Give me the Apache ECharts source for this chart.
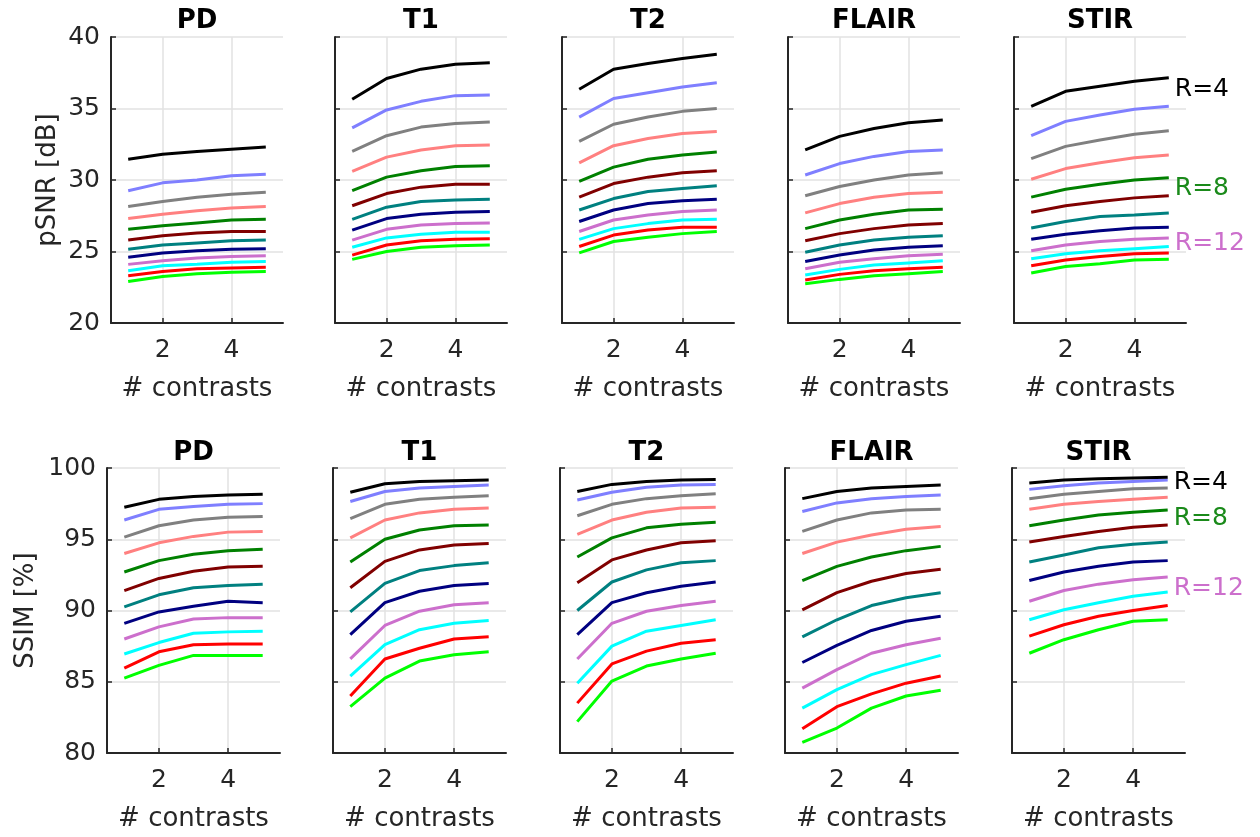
<!DOCTYPE html>
<html>
<head>
<meta charset="utf-8">
<script src="https://cdn.jsdelivr.net/npm/echarts@6/dist/echarts.min.js"></script>
<style>
html,body{margin:0;padding:0;background:#fff;}
#main{width:1260px;height:837px;}
</style>
</head>
<body>
<div id="main"></div>
<script>
// x values and acceleration factors
var contrasts=[1,2,3,4,5];
var rates=[4,5,6,7,8,9,10,11,12,13,14,15];
var lineColors=['#000000','#7f7fff','#808080','#ff8080','#008000','#800000','#008080','#000080','#cc6fcc','#00ffff','#ff0000','#00ff00'];
var panels=['PD','T1','T2','FLAIR','STIR'];
var psnrTicks=[20,25,30,35,40];
var ssimTicks=[80,85,90,95,100];

// pSNR [dB], one row per R (4..15)
var psnrPD=[
  [31.45,31.8,32.0,32.15,32.3],
  [29.25,29.8,30.0,30.3,30.4],
  [28.15,28.5,28.8,29.0,29.15],
  [27.3,27.6,27.85,28.05,28.15],
  [26.55,26.8,27.0,27.2,27.25],
  [25.8,26.1,26.3,26.4,26.4],
  [25.15,25.45,25.6,25.75,25.8],
  [24.6,24.9,25.05,25.15,25.2],
  [24.1,24.35,24.55,24.65,24.7],
  [23.65,24.0,24.1,24.25,24.3],
  [23.3,23.6,23.8,23.85,23.9],
  [22.9,23.25,23.45,23.55,23.6]
];
var psnrT1=[
  [35.65,37.1,37.75,38.1,38.2],
  [33.65,34.9,35.5,35.9,35.95],
  [32.0,33.1,33.7,33.95,34.05],
  [30.6,31.6,32.1,32.4,32.45],
  [29.25,30.2,30.65,30.95,31.0],
  [28.2,29.05,29.5,29.7,29.7],
  [27.25,28.1,28.5,28.6,28.65],
  [26.5,27.3,27.6,27.75,27.8],
  [25.8,26.55,26.85,26.95,27.0],
  [25.3,25.95,26.2,26.35,26.35],
  [24.75,25.45,25.75,25.85,25.9],
  [24.45,25.0,25.3,25.4,25.45]
];
var psnrT2=[
  [36.35,37.75,38.15,38.5,38.8],
  [34.4,35.7,36.1,36.5,36.8],
  [32.7,33.9,34.4,34.8,35.0],
  [31.2,32.4,32.9,33.25,33.4],
  [29.9,30.9,31.45,31.75,31.95],
  [28.8,29.75,30.2,30.5,30.65],
  [27.9,28.7,29.2,29.4,29.6],
  [27.1,27.9,28.35,28.55,28.65],
  [26.4,27.2,27.55,27.8,27.9],
  [25.85,26.6,26.95,27.2,27.25],
  [25.35,26.15,26.5,26.7,26.7],
  [24.9,25.7,26.0,26.25,26.4]
];
var psnrFLAIR=[
  [32.1,33.05,33.6,34.0,34.2],
  [30.35,31.15,31.65,32.0,32.1],
  [28.9,29.55,30.0,30.35,30.5],
  [27.7,28.35,28.8,29.05,29.15],
  [26.6,27.2,27.6,27.9,27.95],
  [25.75,26.25,26.6,26.85,26.95],
  [24.95,25.45,25.8,26.0,26.1],
  [24.3,24.75,25.1,25.3,25.4],
  [23.8,24.25,24.5,24.7,24.8],
  [23.35,23.75,24.05,24.2,24.35],
  [23.0,23.4,23.65,23.8,23.9],
  [22.75,23.05,23.3,23.45,23.6]
];
var psnrSTIR=[
  [35.15,36.2,36.55,36.9,37.15],
  [33.1,34.1,34.55,34.95,35.15],
  [31.5,32.35,32.8,33.2,33.45],
  [30.05,30.8,31.2,31.55,31.75],
  [28.8,29.35,29.7,30.0,30.15],
  [27.75,28.2,28.5,28.75,28.9],
  [26.65,27.1,27.45,27.55,27.7],
  [25.85,26.2,26.45,26.65,26.7],
  [25.05,25.45,25.7,25.85,25.95],
  [24.5,24.85,25.05,25.2,25.35],
  [24.0,24.4,24.65,24.85,24.9],
  [23.5,23.95,24.15,24.4,24.45]
];

// SSIM [%], one row per R (4..15)
var ssimPD=[
  [97.25,97.8,98.0,98.1,98.15],
  [96.35,97.1,97.3,97.45,97.5],
  [95.15,95.95,96.35,96.55,96.6],
  [94.0,94.75,95.2,95.5,95.55],
  [92.7,93.5,93.95,94.2,94.3],
  [91.4,92.25,92.75,93.05,93.1],
  [90.25,91.1,91.6,91.75,91.85],
  [89.1,89.9,90.3,90.65,90.55],
  [88.0,88.85,89.4,89.5,89.5],
  [86.95,87.75,88.4,88.5,88.55],
  [85.95,87.1,87.6,87.65,87.65],
  [85.25,86.15,86.85,86.85,86.85]
];
var ssimT1=[
  [98.3,98.9,99.05,99.1,99.15],
  [97.65,98.35,98.6,98.7,98.8],
  [96.45,97.45,97.8,97.95,98.05],
  [95.1,96.35,96.85,97.1,97.2],
  [93.4,95.0,95.65,95.95,96.0],
  [91.6,93.45,94.25,94.6,94.7],
  [89.9,91.9,92.8,93.15,93.35],
  [88.3,90.55,91.35,91.75,91.9],
  [86.6,88.95,89.95,90.4,90.55],
  [85.4,87.6,88.65,89.1,89.3],
  [84.0,86.6,87.35,88.0,88.15],
  [83.25,85.25,86.45,86.9,87.1]
];
var ssimT2=[
  [98.35,98.85,99.05,99.15,99.2],
  [97.75,98.3,98.65,98.8,98.85],
  [96.65,97.45,97.85,98.05,98.2],
  [95.35,96.35,96.9,97.2,97.25],
  [93.75,95.1,95.8,96.05,96.2],
  [91.95,93.55,94.25,94.75,94.9],
  [90.0,92.0,92.85,93.35,93.5],
  [88.3,90.55,91.25,91.7,92.0],
  [86.6,89.1,89.95,90.35,90.65],
  [84.9,87.5,88.55,88.95,89.35],
  [83.5,86.25,87.15,87.7,87.95],
  [82.2,85.05,86.1,86.6,87.0]
];
var ssimFLAIR=[
  [97.85,98.35,98.6,98.7,98.8],
  [96.95,97.55,97.85,98.0,98.1],
  [95.55,96.35,96.85,97.05,97.1],
  [94.0,94.8,95.3,95.7,95.9],
  [92.1,93.1,93.75,94.2,94.5],
  [90.05,91.25,92.05,92.6,92.9],
  [88.15,89.35,90.35,90.9,91.25],
  [86.35,87.55,88.6,89.25,89.6],
  [84.55,85.85,87.0,87.6,88.05],
  [83.15,84.45,85.5,86.2,86.85],
  [81.7,83.25,84.15,84.9,85.4],
  [80.75,81.75,83.15,84.0,84.4]
];
var ssimSTIR=[
  [98.95,99.15,99.25,99.3,99.35],
  [98.5,98.75,98.95,99.05,99.15],
  [97.85,98.15,98.35,98.55,98.6],
  [97.1,97.45,97.65,97.8,97.95],
  [95.95,96.35,96.7,96.9,97.05],
  [94.8,95.2,95.55,95.85,96.0],
  [93.4,93.9,94.4,94.65,94.8],
  [92.1,92.7,93.1,93.4,93.5],
  [90.65,91.4,91.85,92.15,92.35],
  [89.35,90.05,90.55,91.0,91.3],
  [88.2,89.0,89.6,90.0,90.35],
  [87.0,87.95,88.65,89.25,89.35]
];

var psnrSets=[psnrPD,psnrT1,psnrT2,psnrFLAIR,psnrSTIR];
var ssimSets=[ssimPD,ssimT1,ssimT2,ssimFLAIR,ssimSTIR];
// R values that get a text label at the right of the last panel
var labelledRates={4:'#000000',8:'#1a8a1a',12:'#cc6fcc'};
var labelShift=[{4:12,8:11,12:6},{4:5,8:8,12:11}]; // vertical nudge per row

var mychart=echarts.init(document.getElementById('main'));
var font='"DejaVu Sans", Arial, sans-serif';
var axisColor='#262626';

var grids=[],xAxes=[],yAxes=[],series=[],graphics=[];
var rows=[
  {sets:psnrSets,ticks:psnrTicks,name:'pSNR [dB]',top:37,height:286,lefts:[111,335,562,788,1014],width:172,nameGap:50,titleY:8},
  {sets:ssimSets,ticks:ssimTicks,name:'SSIM [%]',top:468,height:285,lefts:[107,333,560,785,1012],width:173,nameGap:68,titleY:440}
];

rows.forEach(function(row,r){
  panels.forEach(function(p,c){
    var g=grids.length;
    grids.push({left:row.lefts[c],top:row.top,width:row.width,height:row.height,containLabel:false});
    graphics.push({type:'text',x:row.lefts[c]+row.width/2,y:row.titleY,
      style:{text:p,font:'bold 26px '+font,fill:'#000',textAlign:'center'}});
    xAxes.push({
      gridIndex:g,type:'value',min:0.5,max:5.5,
      name:'# contrasts',nameLocation:'middle',nameGap:53,
      nameTextStyle:{fontSize:26,color:axisColor,fontFamily:font},
      axisLine:{show:true,lineStyle:{color:axisColor,width:2}},
      axisTick:{show:true,inside:true,length:5,customValues:[2,4],lineStyle:{color:axisColor,width:1.5}},
      axisLabel:{show:true,customValues:[2,4],fontSize:25,color:axisColor,fontFamily:font,margin:15},
      splitLine:{show:true,lineStyle:{color:'#e2e2e2',width:1.5}}
    });
    yAxes.push({
      gridIndex:g,type:'value',min:row.ticks[0],max:row.ticks[row.ticks.length-1],interval:5,
      name:c===0?row.name:'',nameLocation:'middle',nameGap:row.nameGap,
      nameTextStyle:{fontSize:26,color:axisColor,fontFamily:font},
      axisLine:{show:true,lineStyle:{color:axisColor,width:2}},
      axisTick:{show:true,inside:true,length:5,lineStyle:{color:axisColor,width:1.5}},
      axisLabel:{show:c===0,fontSize:25,color:axisColor,fontFamily:font,margin:11},
      splitLine:{show:true,lineStyle:{color:'#e2e2e2',width:1.5}}
    });
    row.sets[c].forEach(function(vals,k){
      var R=rates[k];
      var s={
        type:'line',xAxisIndex:g,yAxisIndex:g,
        data:contrasts.map(function(x,i){return [x,vals[i]];}),
        showSymbol:false,symbol:'none',
        lineStyle:{color:lineColors[k],width:3},
        itemStyle:{color:lineColors[k]},
        z:20-k
      };
      if(c===4&&labelledRates[R]){
        s.endLabel={show:true,formatter:'R='+R,fontSize:25,fontFamily:font,
          color:labelledRates[R],distance:6,offset:[0,labelShift[r][R]]};
      }
      series.push(s);
    });
  });
});

var option={
  animation:false,
  backgroundColor:'#fff',
  grid:grids,
  xAxis:xAxes,
  yAxis:yAxes,
  series:series,
  graphic:graphics
};
mychart.setOption(option);
</script>
</body>
</html>
